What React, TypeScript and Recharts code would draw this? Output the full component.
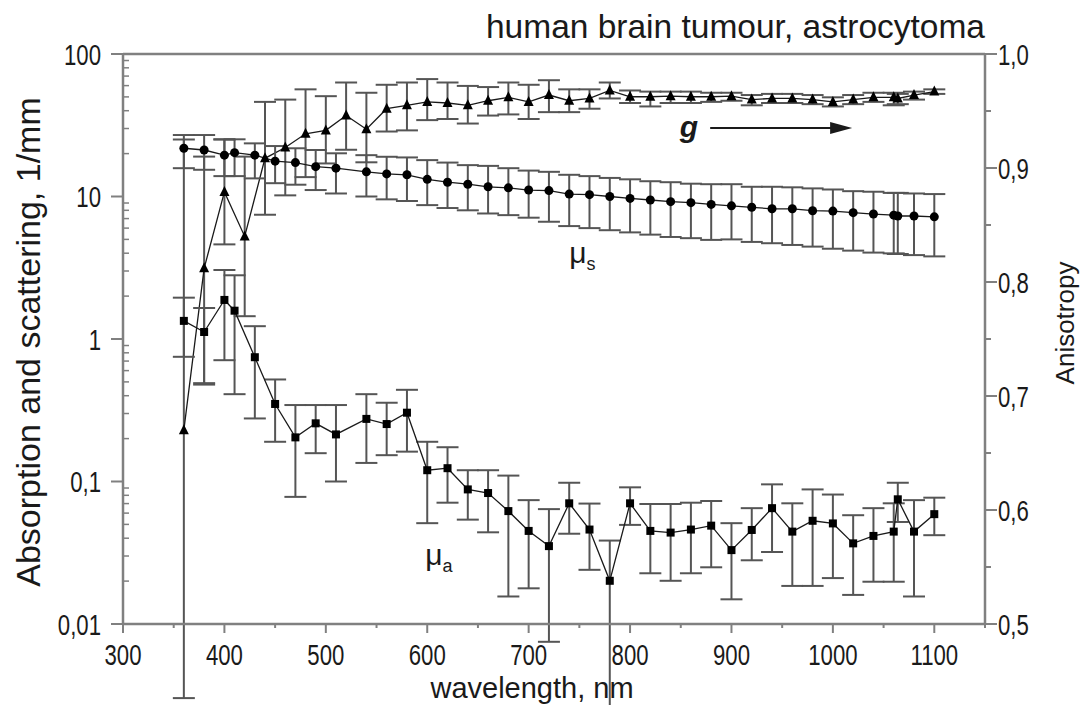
import { ComposedChart, Line, XAxis, YAxis, ErrorBar, ReferenceLine, ReferenceDot, Customized } from "recharts"

// wavelength grids (nm)
const nmMu = [360, 380, 400, 410, 430, 450, 470, 490, 510, 540, 560, 580, 600, 620, 640, 660, 680, 700, 720, 740, 760, 780, 800, 820, 840, 860, 880, 900, 920, 940, 960, 980, 1000, 1020, 1040, 1060, 1064, 1080, 1100]
const nmG = [360, 380, 400, 420, 440, 460, 480, 500, 520, 540, 560, 580, 600, 620, 640, 660, 680, 700, 720, 740, 760, 780, 800, 820, 840, 860, 880, 900, 920, 940, 960, 980, 1000, 1020, 1040, 1060, 1064, 1080, 1100]

// absorption mu_a, 1/mm
const muA = [1.34, 1.12, 1.88, 1.58, 0.745, 0.35, 0.204, 0.256, 0.214, 0.275, 0.253, 0.304, 0.12, 0.124, 0.088, 0.083, 0.062, 0.045, 0.0352, 0.0703, 0.046, 0.0201, 0.0703, 0.045, 0.0438, 0.046, 0.049, 0.033, 0.0457, 0.065, 0.0445, 0.053, 0.0508, 0.0368, 0.0415, 0.0445, 0.075, 0.0445, 0.059]
const muALow = [0.75, 0.49, 0.71, 0.41, 0.277, 0.19, 0.078, 0.158, 0.1, 0.135, 0.153, 0.162, 0.051, 0.071, 0.054, 0.044, 0.0156, 0.0178, 0.0075, 0.043, 0.024, 0.0024, 0.0496, 0.0227, 0.0201, 0.0227, 0.025, 0.0149, 0.028, 0.032, 0.0185, 0.0185, 0.021, 0.016, 0.0198, 0.0198, 0.052, 0.0156, 0.042]
const muAHigh = [1.95, 1.65, 3.05, 2.8, 1.23, 0.52, 0.344, 0.344, 0.344, 0.41, 0.357, 0.44, 0.19, 0.174, 0.12, 0.12, 0.11, 0.074, 0.064, 0.098, 0.07, 0.0385, 0.091, 0.0695, 0.0695, 0.071, 0.073, 0.051, 0.065, 0.0955, 0.0703, 0.088, 0.081, 0.058, 0.065, 0.0703, 0.098, 0.074, 0.077]

// scattering mu_s, 1/mm
const muS = [21.8, 21.2, 19.5, 20.3, 19.5, 17.7, 17.3, 16.2, 15.8, 14.9, 14.4, 14.2, 13.2, 12.6, 12.2, 11.7, 11.5, 11.1, 11.0, 10.4, 10.3, 10.0, 9.7, 9.45, 9.2, 9.05, 8.8, 8.6, 8.4, 8.2, 8.2, 7.95, 7.9, 7.7, 7.53, 7.4, 7.3, 7.3, 7.2]
const muSLow = [15.8, 15.4, 13.9, 13.9, 13.4, 12.4, 12.1, 11.1, 10.5, 10.0, 9.55, 9.3, 8.7, 8.3, 8.0, 7.6, 7.4, 7.1, 6.65, 6.2, 6.0, 5.8, 5.6, 5.4, 5.2, 5.1, 4.96, 5.0, 4.8, 4.7, 4.57, 4.45, 4.3, 4.17, 4.04, 3.99, 3.95, 3.88, 3.8]
const muSHigh = [27, 27, 25.2, 25.2, 23.6, 22.6, 21.8, 21.2, 20.1, 19.5, 19.0, 18.8, 18.0, 17.3, 16.6, 16.4, 15.8, 15.2, 14.9, 14.2, 13.9, 13.5, 13.2, 12.8, 12.6, 12.3, 12.2, 12.2, 11.7, 11.7, 11.6, 11.4, 11.2, 10.9, 10.8, 10.6, 10.6, 10.5, 10.4]

// anisotropy g
const gVal = [0.67, 0.812, 0.879, 0.84, 0.9085, 0.918, 0.93, 0.933, 0.946, 0.934, 0.952, 0.955, 0.958, 0.957, 0.955, 0.959, 0.962, 0.958, 0.964, 0.959, 0.961, 0.968, 0.9625, 0.9625, 0.963, 0.9625, 0.9625, 0.963, 0.96, 0.961, 0.961, 0.96, 0.958, 0.96, 0.962, 0.962, 0.961, 0.964, 0.967]
const gLow = [0.435, 0.71, 0.833, 0.77, 0.859, 0.876, 0.892, 0.904, 0.916, 0.905, 0.932, 0.933, 0.942, 0.943, 0.939, 0.946, 0.947, 0.943, 0.949, 0.949, 0.952, 0.961, 0.957, 0.954, 0.957, 0.957, 0.958, 0.959, 0.955, 0.957, 0.957, 0.956, 0.954, 0.956, 0.958, 0.955, 0.956, 0.96, 0.965]
const gHigh = [0.925, 0.91, 0.925, 0.91, 0.958, 0.96, 0.969, 0.963, 0.975, 0.966, 0.973, 0.975, 0.978, 0.975, 0.972, 0.971, 0.975, 0.973, 0.977, 0.969, 0.969, 0.975, 0.968, 0.967, 0.967, 0.967, 0.966, 0.966, 0.964, 0.965, 0.965, 0.964, 0.962, 0.964, 0.966, 0.966, 0.965, 0.967, 0.969]

// ticks
const xMajor = [300, 400, 500, 600, 700, 800, 900, 1000, 1100]
const xMinor = [350, 450, 550, 650, 750, 850, 950, 1050, 1150]
const leftMajor = [0.01, 0.1, 1, 10, 100]
const leftMinor = [0.02, 0.03, 0.04, 0.05, 0.06, 0.07, 0.08, 0.09, 0.2, 0.3, 0.4, 0.5, 0.6, 0.7, 0.8, 0.9, 2, 3, 4, 5, 6, 7, 8, 9, 20, 30, 40, 50, 60, 70, 80, 90]
const rightMajor = [0.5, 0.6, 0.7, 0.8, 0.9, 1.0]
const rightMinor = [0.55, 0.65, 0.75, 0.85, 0.95]

const toRows = (nm: number[], v: number[], lo: number[], hi: number[]) =>
  nm.map((x, i) => ({ nm: x, v: v[i], err: [v[i] - lo[i], hi[i] - v[i]] }))

const muARows = toRows(nmMu, muA, muALow, muAHigh)
const muSRows = toRows(nmMu, muS, muSLow, muSHigh)
const gRows = toRows(nmG, gVal, gLow, gHigh)

const AXIS = "#808080"
const INK = "#1a1a1a"
const FONT = '"Liberation Sans", Arial, sans-serif'

const comma = (v: number) => String(v).replace(".", ",")

// tick labels in the original are set in a condensed face
function Narrow({ x, y, anchor, children }: any) {
  return (
    <text
      transform={`translate(${x} ${y}) scale(0.74 1)`}
      dy="0.35em"
      textAnchor={anchor}
      fontFamily={FONT}
      fontSize={30}
      fill={INK}
    >
      {children}
    </text>
  )
}

function XTick(props: any) {
  const { x, y, payload } = props
  const major = xMajor.includes(payload.value)
  return (
    <g>
      <line x1={x} x2={x} y1={y} y2={y + (major ? 9 : 4)} stroke={AXIS} strokeWidth={2} />
      {major && <Narrow x={x} y={y + 30} anchor="middle">{payload.value}</Narrow>}
    </g>
  )
}

function LeftTick(props: any) {
  const { x, y, payload } = props
  const major = leftMajor.includes(payload.value)
  return (
    <g>
      {major ? (
        <line x1={x - 12} x2={x} y1={y} y2={y} stroke={AXIS} strokeWidth={2} />
      ) : (
        <line x1={x} x2={x + 6} y1={y} y2={y} stroke={AXIS} strokeWidth={1.5} />
      )}
      {major && <Narrow x={x - 22} y={y} anchor="end">{comma(payload.value)}</Narrow>}
    </g>
  )
}

function RightTick(props: any) {
  const { x, y, payload } = props
  const major = rightMajor.includes(payload.value)
  return (
    <g>
      <line x1={x} x2={x + (major ? 12 : 6)} y1={y} y2={y} stroke={AXIS} strokeWidth={2} />
      {major && <Narrow x={x + 13} y={y} anchor="start">{payload.value.toFixed(1).replace(".", ",")}</Narrow>}
    </g>
  )
}

const square = (p: any) => <rect key={`sq-${p.index}`} x={p.cx - 4} y={p.cy - 4} width={8} height={8} fill="#000" />
const circle = (p: any) => <circle key={`ci-${p.index}`} cx={p.cx} cy={p.cy} r={4.5} fill="#000" />
const triangle = (p: any) => (
  <polygon key={`tr-${p.index}`} points={`${p.cx},${p.cy - 6} ${p.cx - 5},${p.cy + 4} ${p.cx + 5},${p.cy + 4}`} fill="#000" />
)

function Titles() {
  return (
    <g fill={INK}>
      <text x={977} y={30} textAnchor="end" fontFamily={FONT} fontSize={33.5}>human brain tumour, astrocytoma</text>
      <text x={524} y={690} textAnchor="middle" fontFamily={FONT} fontSize={29}>wavelength, nm</text>
      <text transform="translate(32 334) rotate(-90)" textAnchor="middle" fontFamily={FONT} fontSize={34}>
        Absorption and scattering, 1/mm
      </text>
      <text transform="translate(1066 315) rotate(-90)" textAnchor="middle" fontFamily={FONT} fontSize={26}>
        Anisotropy
      </text>
    </g>
  )
}

const muLabel = (sub: string) => (p: any) => (
  <text x={p.cx} y={p.cy} fontFamily={FONT} fontSize={30} fill={INK}>
    μ<tspan fontSize={18} dy={7}>{sub}</tspan>
  </text>
)

const gLabel = (p: any) => (
  <text x={p.cx} y={p.cy} fontFamily={FONT} fontSize={30} fontStyle="italic" fontWeight="bold" fill={INK}>g</text>
)

const arrow = (p: any) => {
  const { x1, y1, x2, y2 } = p
  return (
    <g>
      <line x1={x1} y1={y1} x2={x2 - 18} y2={y2} stroke={INK} strokeWidth={2} />
      <polygon points={`${x2},${y2} ${x2 - 22},${y2 - 6} ${x2 - 22},${y2 + 6}`} fill={INK} />
    </g>
  )
}

export default function App() {
  return (
    <ComposedChart width={1072} height={697} margin={{ top: 46, right: 0, bottom: 0, left: 0 }}>
      <XAxis
        type="number"
        dataKey="nm"
        domain={[300, 1150]}
        allowDataOverflow
        ticks={[...xMajor, ...xMinor].sort((a, b) => a - b)}
        interval={0}
        tick={<XTick />}
        tickLine={false}
        tickSize={0}
        tickMargin={0}
        height={81}
        axisLine={{ stroke: AXIS, strokeWidth: 2.5 }}
      />
      <YAxis
        yAxisId="left"
        type="number"
        scale="log"
        domain={[0.01, 100]}
        allowDataOverflow
        ticks={[...leftMajor, ...leftMinor].sort((a, b) => a - b)}
        interval={0}
        tick={<LeftTick />}
        tickLine={false}
        tickSize={0}
        tickMargin={0}
        width={115}
        axisLine={{ stroke: AXIS, strokeWidth: 2.5 }}
      />
      <YAxis
        yAxisId="g"
        orientation="right"
        type="number"
        domain={[0.5, 1]}
        allowDataOverflow
        ticks={[...rightMajor, ...rightMinor].sort((a, b) => a - b)}
        interval={0}
        tick={<RightTick />}
        tickLine={false}
        tickSize={0}
        tickMargin={0}
        width={95}
        axisLine={{ stroke: AXIS, strokeWidth: 2.5 }}
      />
      <ReferenceLine yAxisId="left" y={100} stroke={AXIS} strokeWidth={2.5} />

      <Line yAxisId="g" data={gRows} dataKey="v" type="linear" stroke={INK} strokeWidth={1.3} dot={triangle} isAnimationActive={false}>
        <ErrorBar dataKey="err" width={11} stroke="#555" strokeWidth={2} isAnimationActive={false} />
      </Line>
      <Line yAxisId="left" data={muSRows} dataKey="v" type="linear" stroke={INK} strokeWidth={1.3} dot={circle} isAnimationActive={false}>
        <ErrorBar dataKey="err" width={11} stroke="#555" strokeWidth={2} isAnimationActive={false} />
      </Line>
      <Line yAxisId="left" data={muARows} dataKey="v" type="linear" stroke={INK} strokeWidth={1.3} dot={square} isAnimationActive={false}>
        <ErrorBar dataKey="err" width={11} stroke="#555" strokeWidth={2} isAnimationActive={false} />
      </Line>

      <ReferenceDot yAxisId="left" x={740} y={3.4} r={0} shape={muLabel("s")} />
      <ReferenceDot yAxisId="left" x={598} y={0.026} r={0} shape={muLabel("a")} />
      <ReferenceDot yAxisId="g" x={849} y={0.927} r={0} shape={gLabel} />
      <ReferenceLine yAxisId="g" segment={[{ x: 879, y: 0.935 }, { x: 1019, y: 0.935 }]} shape={arrow} />

      <Customized component={Titles} />
    </ComposedChart>
  )
}
